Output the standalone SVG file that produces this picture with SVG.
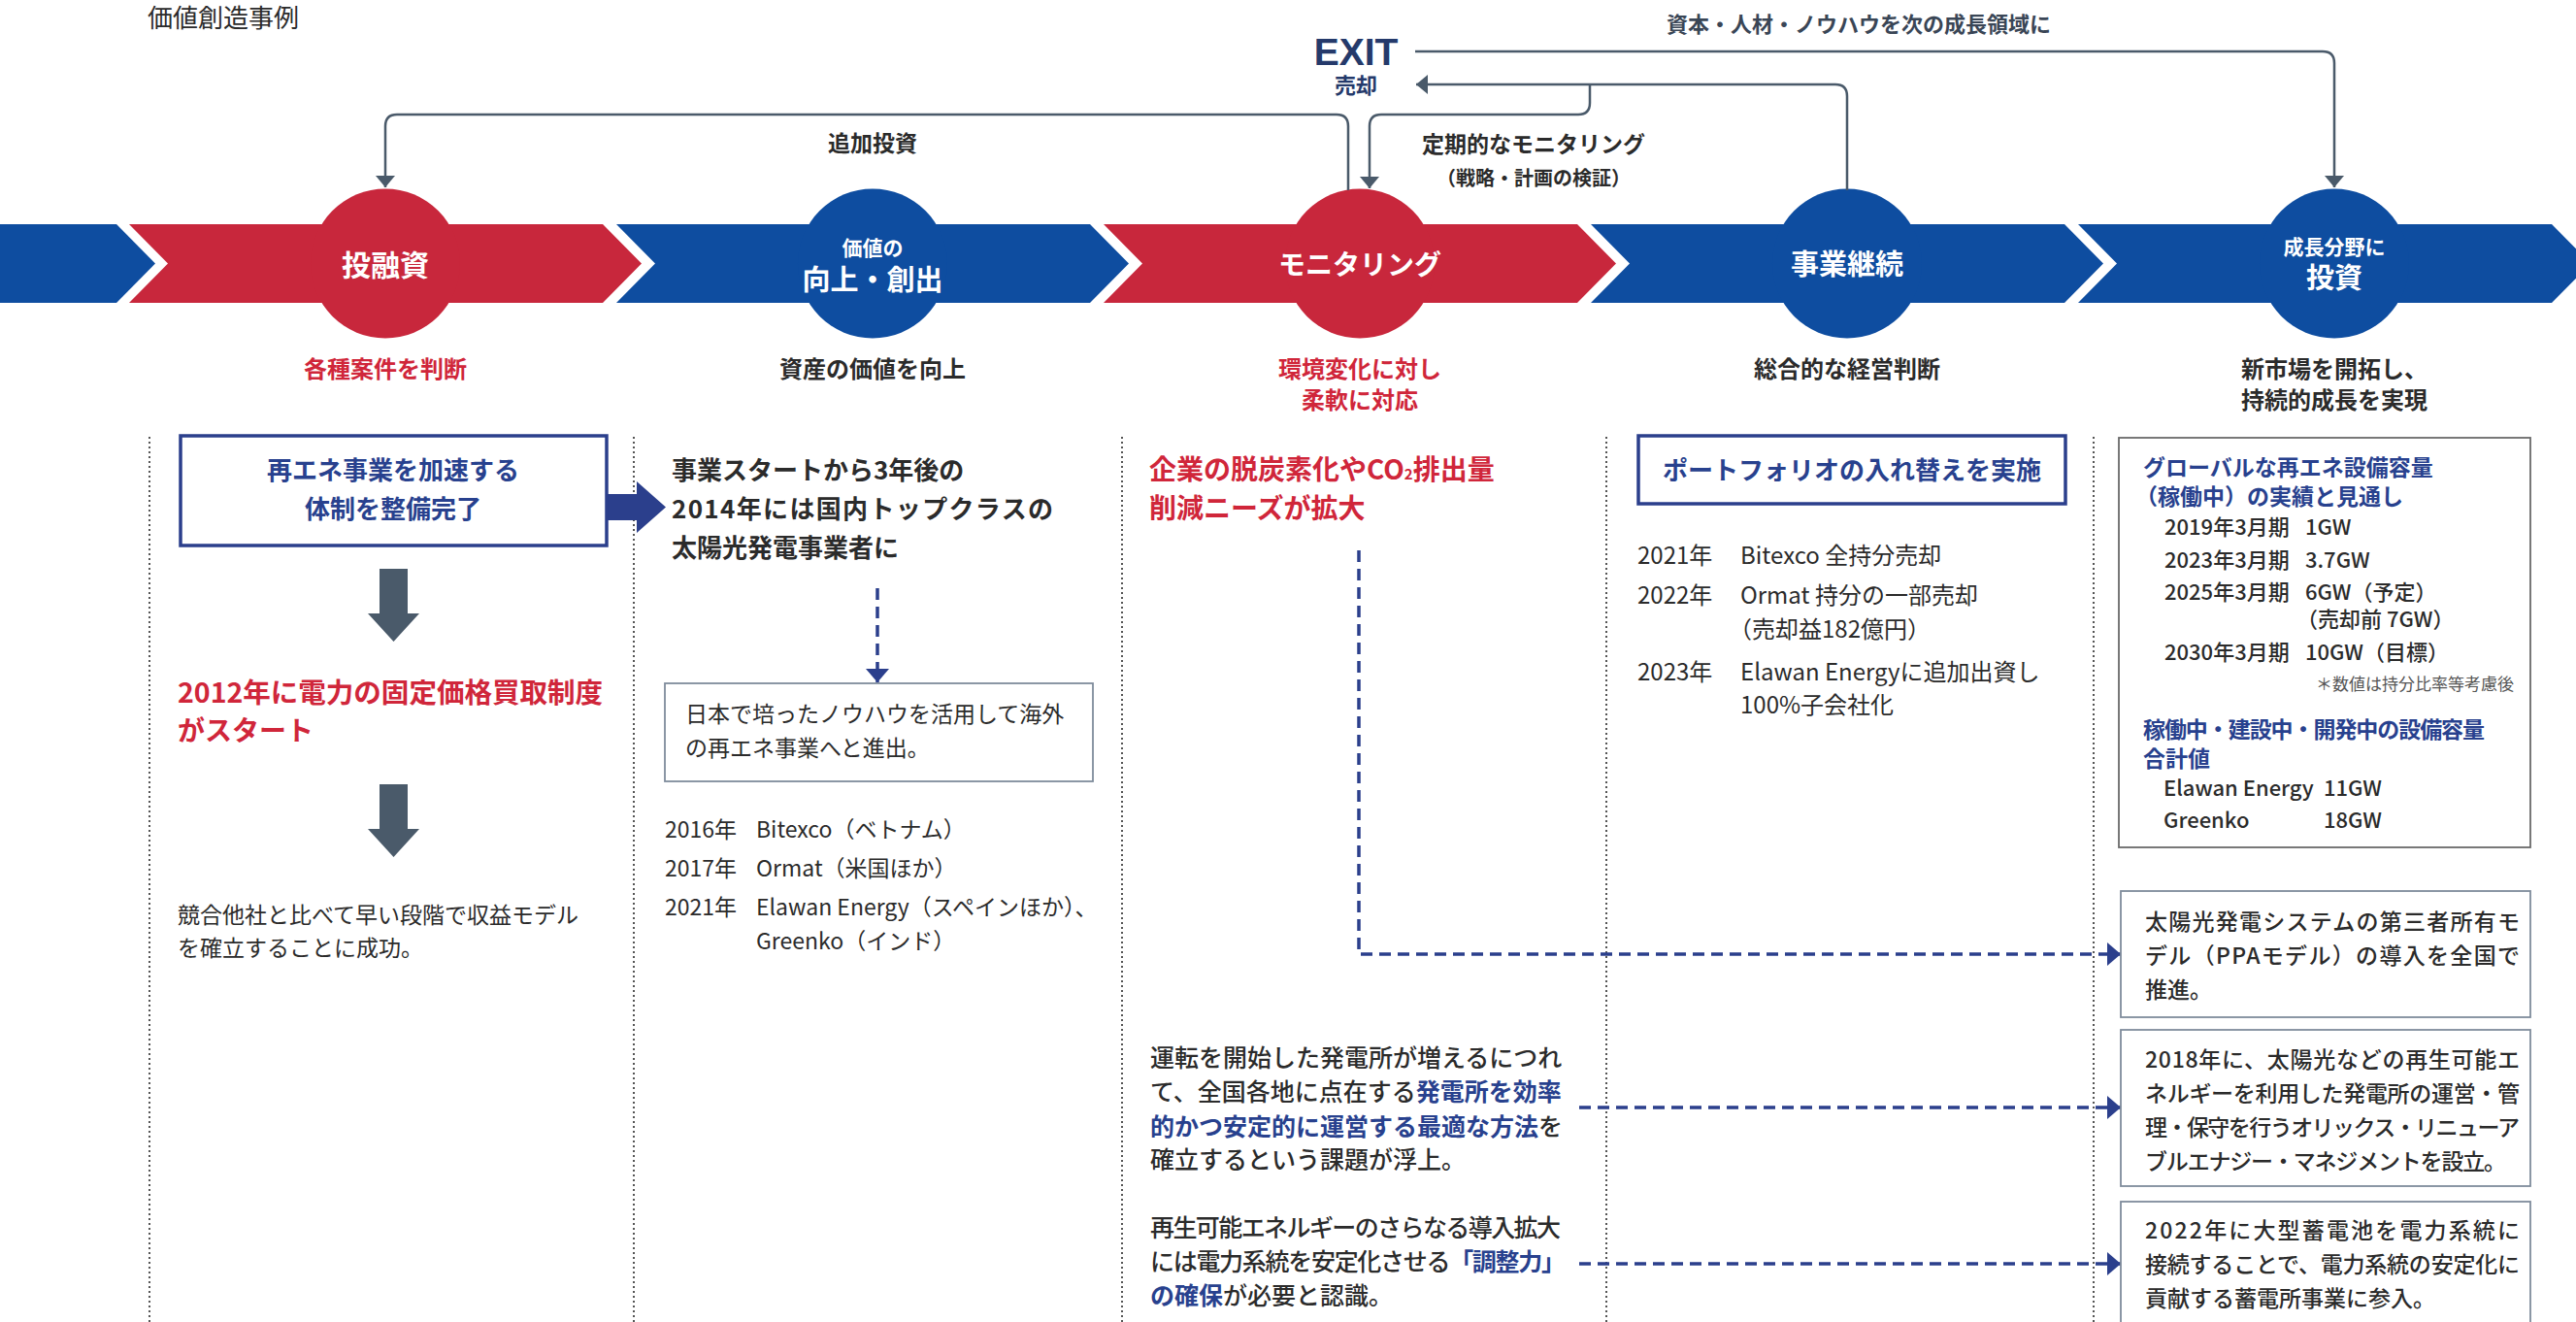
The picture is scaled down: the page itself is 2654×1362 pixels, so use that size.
<svg xmlns="http://www.w3.org/2000/svg" width="2654" height="1362" viewBox="0 0 2654 1362">
<style>
text{font-family:"Noto Sans CJK JP","Noto Sans",sans-serif;}
.w{fill:#ffffff;font-weight:700;text-anchor:middle;}
.lbl{font-size:24px;font-weight:700;text-anchor:middle;}
.red{fill:#D0263A;}
.dk{fill:#2b2b2b;}
.nv{fill:#28418E;}
.con{fill:none;stroke:#4A5A6A;stroke-width:2.5;}
.dash{fill:none;stroke:#2B3F8C;stroke-width:3.5;stroke-dasharray:12 7;}
.div{stroke:#555;stroke-width:2;stroke-dasharray:2 3;}
.segR{fill:#C8273C;}
.segB{fill:#0E4DA0;}
.box1{fill:#fff;stroke:#2B3F8C;stroke-width:3.5;}
.box2{fill:#fff;stroke:#7F8C9C;stroke-width:1.8;}
.b{font-weight:700;}
.m{font-weight:500;}
</style>
<defs>
<marker id="ah" markerUnits="userSpaceOnUse" markerWidth="12" markerHeight="20" refX="12" refY="10" orient="auto">
<path d="M0,0 L12,10 L0,20 Z" fill="#4A5A6A"/>
</marker>
<marker id="dh" markerUnits="userSpaceOnUse" markerWidth="14" markerHeight="24" refX="14" refY="12" orient="auto">
<path d="M0,0 L14,12 L0,24 Z" fill="#2B3F8C"/>
</marker>
</defs>
<rect width="2654" height="1362" fill="#ffffff"/>

<text x="152" y="28" font-size="26" class="dk">価値創造事例</text>

<!-- column dividers -->
<g id="dividers">
<line class="div" x1="154" y1="450" x2="154" y2="1362"/>
<line class="div" x1="653" y1="450" x2="653" y2="1362"/>
<line class="div" x1="1156" y1="450" x2="1156" y2="1362"/>
<line class="div" x1="1655" y1="450" x2="1655" y2="1362"/>
<line class="div" x1="2157" y1="450" x2="2157" y2="1362"/>
</g>

<!-- process band -->
<g id="band">
<polygon class="segB" points="0,231 120,231 160,271.5 120,312 0,312"/>
</g>

<g id="node-toyushi">
<polygon class="segR" points="133,231 621,231 661,271.5 621,312 133,312 173,271.5"/>
<circle class="segR" cx="397" cy="271.5" r="77"/>
<text x="397" y="284" font-size="30" class="w">投融資</text>
<text x="397" y="389" class="lbl red">各種案件を判断</text>
</g>

<g id="node-kachi">
<polygon class="segB" points="635,231 1123,231 1163,271.5 1123,312 635,312 675,271.5"/>
<circle class="segB" cx="899" cy="271.5" r="77"/>
<text x="899" y="263" font-size="21" class="w">価値の</text>
<text x="899" y="299" font-size="29" class="w">向上・創出</text>
<text x="899" y="389" class="lbl dk">資産の価値を向上</text>
</g>

<g id="node-monitoring">
<polygon class="segR" points="1137,231 1625,231 1665,271.5 1625,312 1137,312 1177,271.5"/>
<circle class="segR" cx="1401" cy="271.5" r="77"/>
<text x="1401" y="283" font-size="28" class="w">モニタリング</text>
<text x="1401" y="389" class="lbl red">環境変化に対し</text>
<text x="1401" y="421" class="lbl red">柔軟に対応</text>
</g>

<g id="node-keizoku">
<polygon class="segB" points="1639,231 2127,231 2167,271.5 2127,312 1639,312 1679,271.5"/>
<circle class="segB" cx="1903" cy="271.5" r="77"/>
<text x="1903" y="283" font-size="29" class="w">事業継続</text>
<text x="1903" y="389" class="lbl dk">総合的な経営判断</text>
</g>

<g id="node-seicho">
<polygon class="segB" points="2141,231 2629,231 2669,271.5 2629,312 2141,312 2181,271.5"/>
<circle class="segB" cx="2405" cy="271.5" r="77"/>
<text x="2405" y="262" font-size="21" class="w">成長分野に</text>
<text x="2405" y="297" font-size="29" class="w">投資</text>
<text x="2405" y="389" class="lbl dk">新市場を開拓し、</text>
<text x="2405" y="421" class="lbl dk">持続的成長を実現</text>
</g>

<g id="node-exit">
<text x="1397" y="67" font-size="39" font-weight="700" fill="#253A6B" text-anchor="middle" style="font-family:'Liberation Sans',Arial,sans-serif">EXIT</text>
<text x="1397" y="96" font-size="22" fill="#253A6B" class="b" text-anchor="middle">売却</text>
</g>

<!-- connectors -->
<g id="connectors">
<path class="con" d="M1458,53 H2393 Q2405,53 2405,65 V193" marker-end="url(#ah)"/>
<path class="con" d="M1903,196 V99 Q1903,87 1891,87 H1459" marker-end="url(#ah)"/>
<path class="con" d="M1638,87 V106 Q1638,118 1626,118 H1423 Q1411,118 1411,130 V194" marker-end="url(#ah)"/>
<path class="con" d="M1389,196 V130 Q1389,118 1377,118 H409 Q397,118 397,130 V193" marker-end="url(#ah)"/>
<polygon points="625,509 656,509 656,496 686,522.5 656,549 656,536 625,536" fill="#2B3F8C"/>
<polygon points="391,586 420,586 420,632 432,632 405.5,661 379,632 391,632" fill="#4A5A6A"/>
<polygon points="391,808 420,808 420,854 432,854 405.5,883 379,854 391,854" fill="#4A5A6A"/>
<path class="dash" d="M904,606 V703" marker-end="url(#dh)"/>
<path class="dash" d="M1400,567 V983 H2185" marker-end="url(#dh)"/>
<path class="dash" d="M1627,1141 H2185" marker-end="url(#dh)"/>
<path class="dash" d="M1627,1302 H2185" marker-end="url(#dh)"/>
</g>

<g id="connector-labels">
<text x="1915" y="33" font-size="22" class="b" text-anchor="middle" fill="#3a4656">資本・人材・ノウハウを次の成長領域に</text>
<text x="899" y="156" font-size="23" class="b dk" text-anchor="middle">追加投資</text>
<text x="1580" y="157" font-size="23" class="b dk" text-anchor="middle">定期的なモニタリング</text>
<text x="1580" y="191" font-size="20" class="b dk" text-anchor="middle">（戦略・計画の検証）</text>
</g>

<!-- column 1 -->
<g id="col1-box">
<rect class="box1" x="186" y="449" width="439" height="113"/>
<text x="405" y="494" font-size="26" class="b nv" text-anchor="middle">再エネ事業を加速する</text>
<text x="405" y="534" font-size="26" class="b nv" text-anchor="middle">体制を整備完了</text>
</g>
<g id="col1-fit">
<text x="183" y="724" font-size="28" class="b red" textLength="438" lengthAdjust="spacingAndGlyphs">2012年に電力の固定価格買取制度</text>
<text x="183" y="763" font-size="28" class="b red">がスタート</text>
</g>
<g id="col1-result">
<text x="183" y="951" font-size="23" class="dk">競合他社と比べて早い段階で収益モデル</text>
<text x="183" y="985" font-size="23" class="dk">を確立することに成功。</text>
</g>

<!-- column 2 -->
<g id="col2-top">
<text x="692" y="494" font-size="26" class="b dk">事業スタートから3年後の</text>
<text x="692" y="534" font-size="26" class="b dk" textLength="393" lengthAdjust="spacing">2014年には国内トップクラスの</text>
<text x="692" y="574" font-size="26" class="b dk">太陽光発電事業者に</text>
</g>
<g id="col2-box">
<rect class="box2" x="685" y="704" width="441" height="101"/>
<text x="706" y="744" font-size="23" class="dk">日本で培ったノウハウを活用して海外</text>
<text x="706" y="779" font-size="23" class="dk">の再エネ事業へと進出。</text>
</g>
<g id="col2-list">
<text x="685" y="863" font-size="23" class="dk">2016年</text><text x="779" y="863" font-size="23" class="dk">Bitexco（ベトナム）</text>
<text x="685" y="903" font-size="23" class="dk">2017年</text><text x="779" y="903" font-size="23" class="dk">Ormat（米国ほか）</text>
<text x="685" y="943" font-size="23" class="dk">2021年</text><text x="779" y="943" font-size="23" class="dk">Elawan Energy（スペインほか）、</text>
<text x="779" y="978" font-size="23" class="dk">Greenko（インド）</text>
</g>

<!-- column 3 -->
<g id="col3-top">
<text x="1184" y="494" font-size="28" class="b red">企業の脱炭素化やCO<tspan font-size="15">2</tspan>排出量</text>
<text x="1184" y="534" font-size="28" class="b red">削減ニーズが拡大</text>
</g>
<g id="col3-para1">
<text x="1185" y="1099" font-size="25" class="m dk">運転を開始した発電所が増えるにつれ</text>
<text x="1185" y="1134" font-size="25" class="m dk">て、全国各地に点在する<tspan class="nv b">発電所を効率</tspan></text>
<text x="1185" y="1170" font-size="25" class="m dk"><tspan class="nv b">的かつ安定的に運営する最適な方法</tspan>を</text>
<text x="1185" y="1204" font-size="25" class="m dk">確立するという課題が浮上。</text>
</g>
<g id="col3-para2">
<text x="1185" y="1274" font-size="25" class="m dk" textLength="423" lengthAdjust="spacing">再生可能エネルギーのさらなる導入拡大</text>
<text x="1185" y="1309" font-size="25" class="m dk" textLength="428" lengthAdjust="spacing">には電力系統を安定化させる<tspan class="nv b">「調整力」</tspan></text>
<text x="1185" y="1344" font-size="25" class="m dk"><tspan class="nv b">の確保</tspan>が必要と認識。</text>
</g>

<!-- column 4 -->
<g id="col4-box">
<rect class="box1" x="1688" y="449" width="440" height="70"/>
<text x="1908" y="494" font-size="26" class="b nv" text-anchor="middle">ポートフォリオの入れ替えを実施</text>
</g>
<g id="col4-list">
<text x="1687" y="581" font-size="24" class="dk">2021年</text><text x="1793" y="581" font-size="24" class="dk">Bitexco 全持分売却</text>
<text x="1687" y="622" font-size="24" class="dk">2022年</text><text x="1793" y="622" font-size="24" class="dk">Ormat 持分の一部売却</text>
<text x="1781" y="657" font-size="24" class="dk">（売却益182億円）</text>
<text x="1687" y="701" font-size="24" class="dk">2023年</text><text x="1793" y="701" font-size="24" class="dk">Elawan Energyに追加出資し</text>
<text x="1793" y="735" font-size="24" class="dk">100%子会社化</text>
</g>

<!-- column 5 -->
<g id="col5-capacity">
<rect class="box2" x="2183" y="451" width="424" height="422" style="stroke:#6a6a6a"/>
<text x="2208" y="490" font-size="23" class="b nv">グローバルな再エネ設備容量</text>
<text x="2200" y="520" font-size="23" class="b nv">（稼働中）の実績と見通し</text>
<text x="2230" y="551" font-size="22" class="m dk">2019年3月期</text><text x="2375" y="551" font-size="22" class="m dk">1GW</text>
<text x="2230" y="585" font-size="22" class="m dk">2023年3月期</text><text x="2375" y="585" font-size="22" class="m dk">3.7GW</text>
<text x="2230" y="618" font-size="22" class="m dk">2025年3月期</text><text x="2375" y="618" font-size="22" class="m dk">6GW（予定）</text>
<text x="2366" y="646" font-size="22" class="m dk">（売却前 7GW）</text>
<text x="2230" y="680" font-size="22" class="m dk">2030年3月期</text><text x="2375" y="680" font-size="22" class="m dk">10GW（目標）</text>
<text x="2590" y="711" font-size="17" fill="#555" text-anchor="end">＊数値は持分比率等考慮後</text>
<text x="2208" y="760" font-size="23" class="b nv" textLength="352" lengthAdjust="spacing">稼働中・建設中・開発中の設備容量</text>
<text x="2208" y="790" font-size="23" class="b nv">合計値</text>
<text x="2229" y="820" font-size="22" class="m dk">Elawan Energy</text><text x="2394" y="820" font-size="22" class="m dk">11GW</text>
<text x="2229" y="853" font-size="22" class="m dk">Greenko</text><text x="2394" y="853" font-size="22" class="m dk">18GW</text>
</g>
<g id="col5-ppa">
<rect class="box2" x="2185" y="918" width="422" height="130"/>
<text x="2210" y="958" font-size="23" class="m dk" textLength="386" lengthAdjust="spacing">太陽光発電システムの第三者所有モ</text>
<text x="2210" y="993" font-size="23" class="m dk" textLength="386" lengthAdjust="spacing">デル（PPAモデル）の導入を全国で</text>
<text x="2210" y="1028" font-size="23" class="m dk">推進。</text>
</g>
<g id="col5-om">
<rect class="box2" x="2185" y="1061" width="422" height="161"/>
<text x="2210" y="1100" font-size="23" class="m dk" textLength="386" lengthAdjust="spacing">2018年に、太陽光などの再生可能エ</text>
<text x="2210" y="1135" font-size="23" class="m dk" textLength="386" lengthAdjust="spacing">ネルギーを利用した発電所の運営・管</text>
<text x="2210" y="1170" font-size="23" class="m dk" textLength="386" lengthAdjust="spacing">理・保守を行うオリックス・リニューア</text>
<text x="2210" y="1205" font-size="23" class="m dk" textLength="372" lengthAdjust="spacing">ブルエナジー・マネジメントを設立。</text>
</g>
<g id="col5-battery">
<rect class="box2" x="2185" y="1238" width="422" height="140"/>
<text x="2210" y="1276" font-size="23" class="m dk" textLength="386" lengthAdjust="spacing">2022年に大型蓄電池を電力系統に</text>
<text x="2210" y="1311" font-size="23" class="m dk" textLength="386" lengthAdjust="spacing">接続することで、電力系統の安定化に</text>
<text x="2210" y="1346" font-size="23" class="m dk">貢献する蓄電所事業に参入。</text>
</g>
</svg>
